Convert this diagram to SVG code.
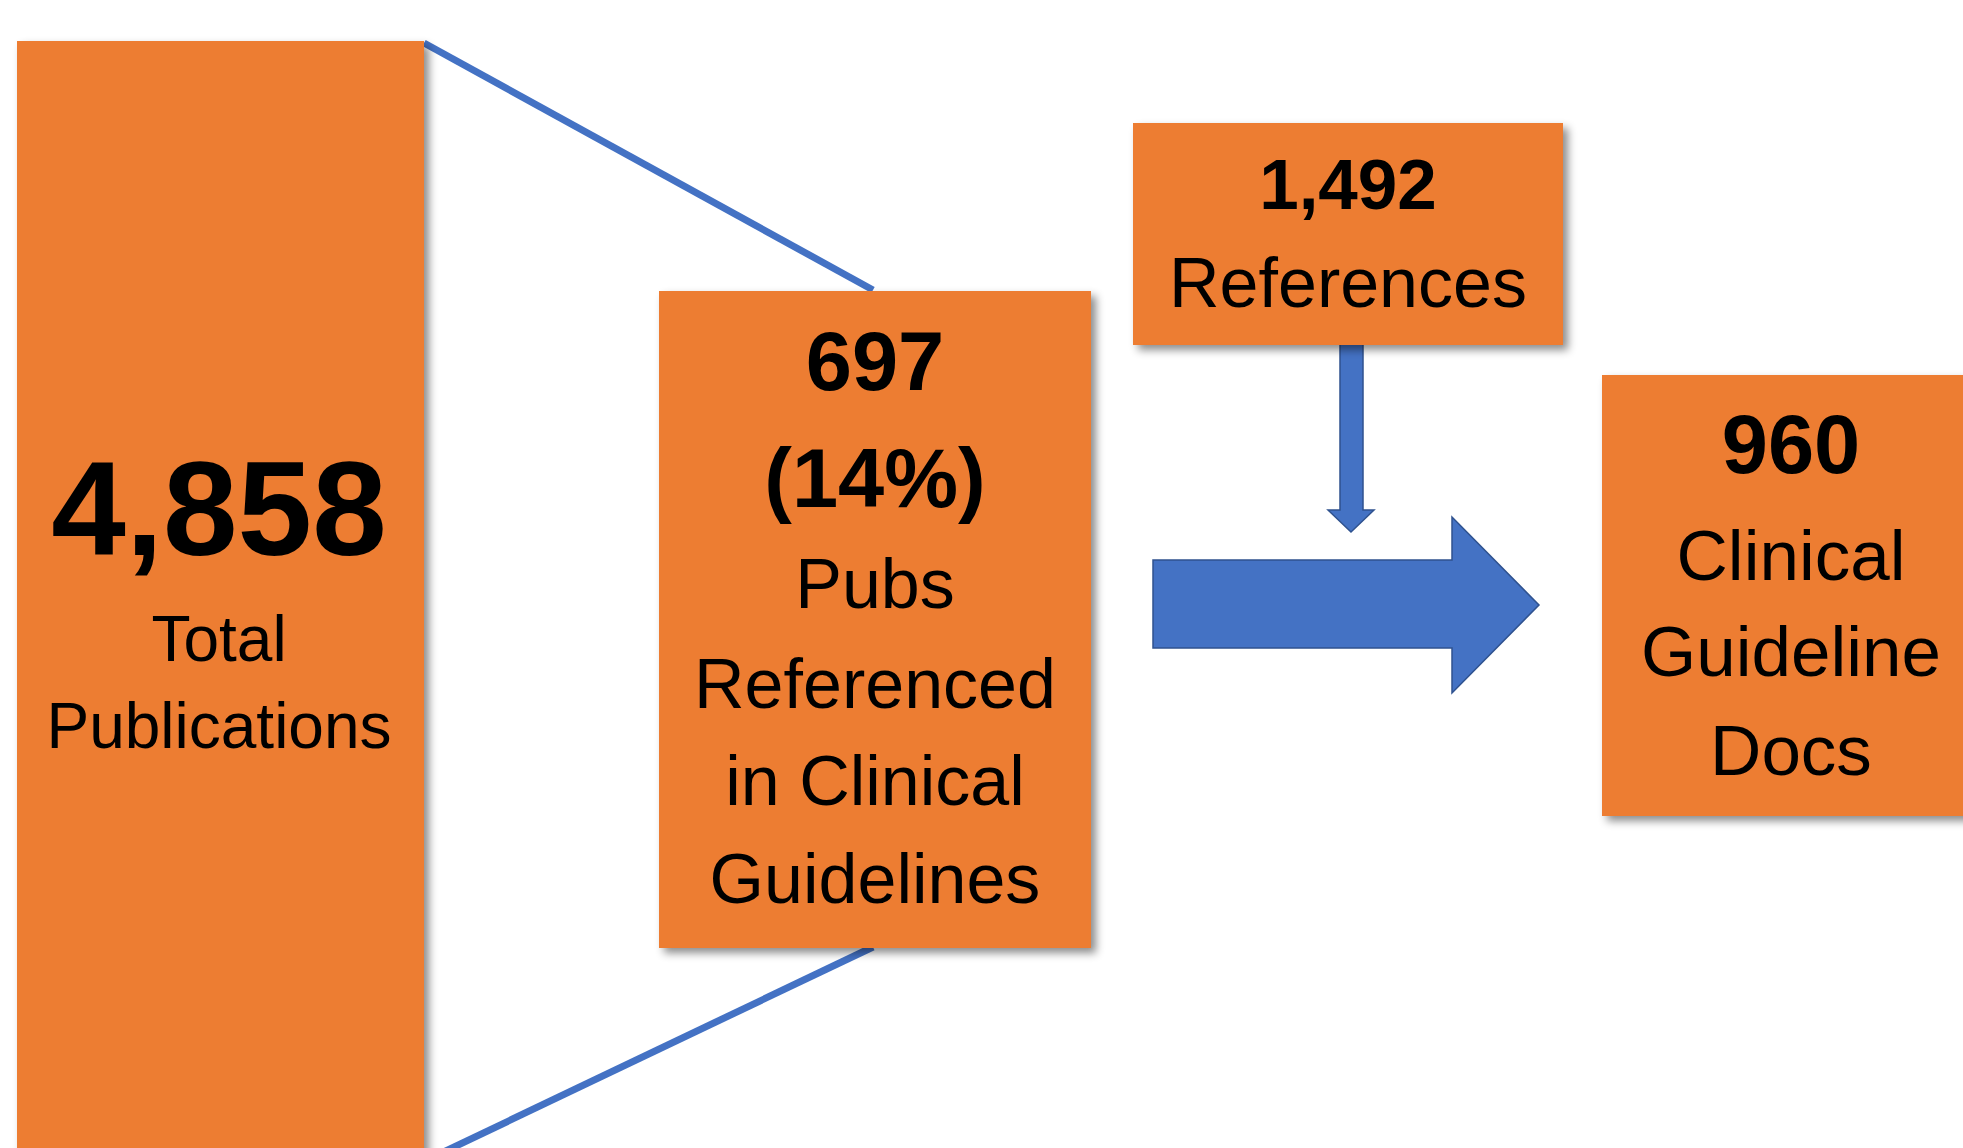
<svg xmlns="http://www.w3.org/2000/svg" width="1963" height="1148" viewBox="0 0 1963 1148">
<defs>
<filter id="sh" x="-10%" y="-10%" width="130%" height="130%">
<feDropShadow dx="5" dy="5" stdDeviation="4" flood-color="#000" flood-opacity="0.45"/>
</filter>
<style>
.box{fill:#ED7D31;filter:url(#sh)}
.t{font-family:"Liberation Sans",Arial,sans-serif;fill:#000;text-anchor:middle}
.b{font-weight:bold}
.line{stroke:#4472C4;stroke-width:7;fill:none}
.arrow{fill:#4472C4;stroke:#2F528F;stroke-width:1.5}
</style>
</defs>
<rect width="1963" height="1148" fill="#fff"/>
<g id="connectors">
<line class="line" x1="424" y1="43" x2="873" y2="290"/>
<line class="line" x1="873" y1="947" x2="410" y2="1168"/>
<polygon class="arrow" points="1153,560 1452,560 1452,517 1539,605 1452,693 1452,648 1153,648"/>
<polygon class="arrow" points="1340,344 1363,344 1363,510 1374,510 1351,532 1328,510 1340,510"/>
</g>
<g id="total">
<rect class="box" x="17" y="41" width="407" height="1130"/>
<text class="t b" x="219" y="555" font-size="134">4,858</text>
<text class="t" x="219" y="661" font-size="64">Total</text>
<text class="t" x="219" y="748" font-size="64">Publications</text>
</g>
<g id="referenced">
<rect class="box" x="659" y="291" width="432" height="657"/>
<text class="t b" x="875" y="390" font-size="83">697</text>
<text class="t b" x="875" y="507" font-size="83">(14%)</text>
<text class="t" x="875" y="608" font-size="70">Pubs</text>
<text class="t" x="875" y="708" font-size="70">Referenced</text>
<text class="t" x="875" y="805" font-size="70">in Clinical</text>
<text class="t" x="875" y="903" font-size="70">Guidelines</text>
</g>
<g id="references">
<rect class="box" x="1133" y="123" width="430" height="222"/>
<text class="t b" x="1348" y="209" font-size="71">1,492</text>
<text class="t" x="1348" y="307" font-size="70">References</text>
</g>
<g id="docs">
<rect class="box" x="1602" y="375" width="376" height="441"/>
<text class="t b" x="1791" y="473" font-size="83">960</text>
<text class="t" x="1791" y="580" font-size="71">Clinical</text>
<text class="t" x="1791" y="676" font-size="71">Guideline</text>
<text class="t" x="1791" y="775" font-size="71">Docs</text>
</g>
</svg>
